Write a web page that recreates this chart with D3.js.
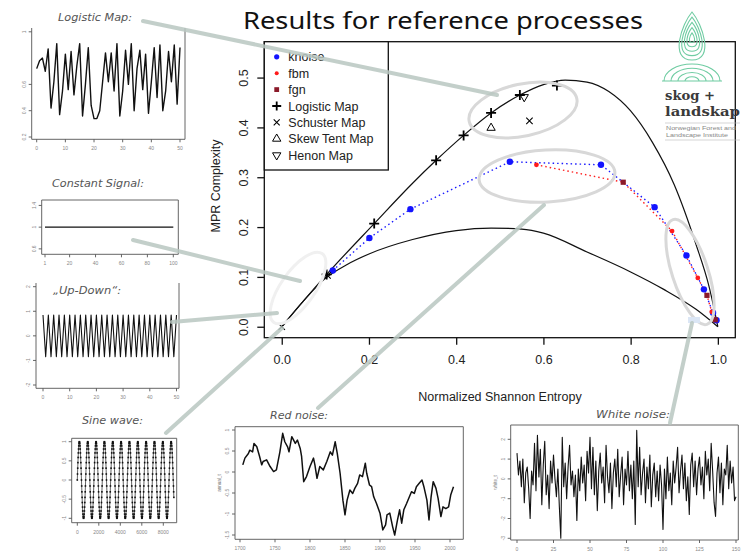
<!DOCTYPE html>
<html>
<head>
<meta charset="utf-8">
<script src="https://cdn.jsdelivr.net/npm/d3@7"></script>
<style>body{margin:0;background:#fff}</style>
</head>
<body>
<div class="canvas"></div>
<script>
// ---- main plot: Normalized Shannon Entropy (H) vs MPR Complexity (C)
const maxCurveH = [0, 0.05, 0.103, 0.212, 0.3, 0.354, 0.417, 0.48, 0.546, 0.6, 0.65, 0.7, 0.75, 0.8, 0.85, 0.9, 0.95, 0.98, 1.0];
const maxCurveC = [0, 0.052, 0.105, 0.207, 0.288, 0.334, 0.384, 0.429, 0.465, 0.486, 0.495, 0.491, 0.472, 0.433, 0.37, 0.285, 0.165, 0.08, 0];
const minCurveH = [0, 0.05, 0.1, 0.15, 0.2, 0.3, 0.4, 0.48, 0.55, 0.6, 0.7, 0.8, 0.876, 0.95, 1.0];
const minCurveC = [0, 0.052, 0.097, 0.125, 0.146, 0.175, 0.193, 0.198, 0.196, 0.188, 0.15, 0.11, 0.075, 0.035, 0];

const knoiseH = [0.117, 0.201, 0.295, 0.523, 0.732, 0.855, 0.928, 0.968, 0.989, 0.997];
const knoiseC = [0.113, 0.178, 0.236, 0.331, 0.325, 0.240, 0.143, 0.075, 0.028, 0.013];
const fbmH = [0.584, 0.895, 0.954, 0.986];
const fbmC = [0.325, 0.192, 0.098, 0.030];
const fgnH = [0.783, 0.975, 0.994];
const fgnC = [0.290, 0.063, 0.014];
const logisticH = [0.103, 0.212, 0.354, 0.417, 0.480, 0.546, 0.631];
const logisticC = [0.105, 0.207, 0.334, 0.384, 0.429, 0.465, 0.484];
const schusterH = [0.0, 0.105, 0.568];
const schusterC = [0.0, 0.103, 0.413];
const skewTentH = [0.480];
const skewTentC = [0.399];
const henonH = [0.556];
const henonC = [0.461];

const xTicksMain = [0, 0.2, 0.4, 0.6, 0.8, 1.0];
const yTicksMain = [0, 0.1, 0.2, 0.3, 0.4, 0.5];
const legendLabels = ['knoise', 'fbm', 'fgn', 'Logistic Map', 'Schuster Map', 'Skew Tent Map', 'Henon Map'];

// ---- inset series
const logisticSeries = [0.72, 0.78, 0.80, 0.70, 0.87, 0.42, 0.62, 0.91, 0.37, 0.55, 0.83, 0.56, 0.85, 0.52, 0.74, 0.91, 0.36, 0.60, 0.88, 0.44,
  0.34, 0.34, 0.40, 0.62, 0.84, 0.62, 0.84, 0.55, 0.91, 0.36, 0.55, 0.86, 0.60, 0.91, 0.40, 0.72, 0.86, 0.56, 0.83, 0.38,
  0.62, 0.88, 0.50, 0.90, 0.40, 0.55, 0.85, 0.62, 0.90, 0.45, 0.88];
const constantT = [1, 100];
const constantV = [1.0, 1.0];
const upDownSeries = [0.85, -0.85, 0.85, -0.85, 0.85, -0.85, 0.85, -0.85, 0.85, -0.85, 0.85, -0.85, 0.85, -0.85, 0.85, -0.85, 0.85,
  -0.85, 0.85, -0.85, 0.85, -0.85, 0.85, -0.85, 0.85, -0.85, 0.85, -0.85, 0.85, -0.85, 0.85, -0.85, 0.85, -0.85,
  0.85, -0.85, 0.85, -0.85, 0.85, -0.85, 0.85, -0.85, 0.85, -0.85, 0.85, -0.85, 0.85, -0.85, 0.85, -0.85, 0.85];
// one period of the sampled sine wave (40 samples), repeated over the record
const sineCycle = [0, 0.156, 0.309, 0.454, 0.588, 0.707, 0.809, 0.891, 0.951, 0.988, 1.0, 0.988, 0.951, 0.891, 0.809, 0.707, 0.588, 0.454, 0.309, 0.156,
  0, -0.156, -0.309, -0.454, -0.588, -0.707, -0.809, -0.891, -0.951, -0.988, -1.0, -0.988, -0.951, -0.891, -0.809, -0.707, -0.588, -0.454, -0.309, -0.156];
const sineStep = 19.4;
const sineSamples = 464;
const redYears = [1704, 1707, 1712, 1714, 1718, 1720, 1724, 1728, 1731, 1733, 1738, 1743, 1748, 1752, 1757, 1761, 1764, 1768, 1770, 1774,
  1779, 1782, 1786, 1788, 1791, 1795, 1800, 1805, 1807, 1810, 1814, 1819, 1824, 1829, 1832, 1836, 1839, 1843, 1847, 1850,
  1853, 1857, 1861, 1864, 1868, 1871, 1875, 1879, 1881, 1885, 1888, 1891, 1895, 1900, 1904, 1908, 1910, 1914, 1918, 1921,
  1925, 1928, 1931, 1934, 1938, 1942, 1945, 1949, 1952, 1956, 1960, 1963, 1967, 1970, 1973, 1976, 1980, 1983, 1987, 1990,
  1994, 1998, 2001, 2005];
const redValues = [0.17, 0.33, 0.44, 0.52, 0.48, 0.68, 0.60, 0.37, 0.17, 0.25, 0.29, 0.13, 0.01, 0.05, 0.48, 0.92, 0.72, 0.60, 0.48, 0.84,
  0.68, 0.76, 0.56, 0.37, -0.23, -0.11, 0.13, 0.33, 0.17, -0.15, 0.13, 0.05, 0.25, 0.48, 0.40, 0.72, 0.44, -0.03, -0.67, -1.02,
  -0.67, -0.43, -0.51, -0.39, -0.27, -0.07, -0.11, 0.21, -0.03, -0.31, -0.35, -0.59, -0.75, -0.98, -1.38, -1.26, -1.02, -0.98, -1.30, -1.50,
  -1.14, -0.90, -1.22, -0.90, -0.75, -0.59, -0.47, -0.51, -0.35, -0.27, -0.19, -0.37, -0.67, -1.14, -0.59, -0.23, -0.39, -0.63, -1.06, -0.83,
  -0.87, -0.83, -0.55, -0.35];
const whiteSeries = [1.3, 0.2, 0.9, -0.4, 1.0, -1.2, 0.3, 0.6, -0.5, -2.0, 0.4, -0.3, 1.8, -0.6, 2.2, 0.1, 1.5, -1.3, 0.7, 1.9,
  -0.8, 0.2, -1.5, 0.9, -0.2, 1.2, 0.0, -0.9, 0.5, -1.4, -3.0, 2.1, -0.4, 0.8, -1.0, 0.6, 1.7, -0.3, 0.4, -0.9,
  0.2, -2.1, 0.5, -0.6, 1.1, -0.2, 0.7, -1.1, 1.4, 0.3, 2.1, -0.5, 1.6, -0.8, 0.9, -1.6, 0.4, 1.3, -0.2, 0.6,
  -1.2, 1.7, 0.1, -0.7, 0.8, -1.5, 0.3, 1.0, -0.4, 1.5, -0.9, 0.2, 1.1, -1.3, 0.5, -0.3, 1.4, -0.6, 0.7, -1.0,
  0.9, -2.3, 2.45, -0.4, 1.6, -0.8, 0.3, 1.0, -1.2, 0.6, -0.5, 1.2, -1.4, 0.2, 0.8, -0.9, 0.4, -1.1, 0.7, -0.3,
  -2.55, 0.5, -1.0, 1.1, -0.6, 0.3, -1.3, 0.9, -0.2, 0.6, 1.6, -0.7, 0.4, 1.2, -0.5, 0.8, -1.1, 0.1, -1.8, 0.7,
  1.3, -0.4, 0.9, -0.8, 0.5, 1.1, -0.3, 0.6, -1.0, 1.4, 0.2, 1.0, -0.6, 1.8, 0.4, -1.2, -1.9, 0.3, 1.1, -0.7,
  0.8, -1.3, 0.5, 0.2, 1.7, -0.5, 0.9, -0.2, 0.6, -1.1, -0.9];

const zip = (a, b) => a.map((v, i) => [v, b[i]]);

// create svg
const svg = d3.select('.canvas')
  .append('svg')
    .attr('width', 748)
    .attr('height', 555)
    .style('font-family', '"Liberation Sans", Arial, sans-serif');

svg.append('rect').attr('width', 748).attr('height', 555).attr('fill', '#fff');

// title
svg.append('text')
  .attr('x', 443).attr('y', 29)
  .attr('text-anchor', 'middle')
  .attr('font-family', '"Noto Sans", "DejaVu Sans", sans-serif')
  .attr('font-size', 24)
  .attr('textLength', 400).attr('lengthAdjust', 'spacingAndGlyphs')
  .attr('fill', '#111')
  .text('Results for reference processes');

// ---------------- main plot ----------------
const x = d3.scaleLinear().domain([-0.04, 1.04]).range([264.3, 735.3]);
const y = d3.scaleLinear().domain([-0.022, 0.572]).range([337.7, 41.7]);
const main = svg.append('g');

const curve = d3.line().x(d => x(d[0])).y(d => y(d[1])).curve(d3.curveMonotoneX);
const straight = d3.line().x(d => x(d[0])).y(d => y(d[1]));

main.append('path').attr('d', curve(zip(maxCurveH, maxCurveC)))
  .attr('fill', 'none').attr('stroke', '#111').attr('stroke-width', 1.2);
main.append('path').attr('d', curve(zip(minCurveH, minCurveC)))
  .attr('fill', 'none').attr('stroke', '#111').attr('stroke-width', 1.2);

// dotted connecting lines
main.append('path').attr('d', straight(zip(knoiseH, knoiseC)))
  .attr('fill', 'none').attr('stroke', '#1a1aff').attr('stroke-width', 1.4).attr('stroke-dasharray', '1.5,3');
const redPts = zip(fbmH, fbmC).concat(zip(fgnH, fgnC)).sort((a, b) => a[0] - b[0]);
main.append('path').attr('d', straight(redPts))
  .attr('fill', 'none').attr('stroke', '#ff2020').attr('stroke-width', 1.4).attr('stroke-dasharray', '1.5,3');

// markers
const plusPath = s => `M${-s},0H${s}M0,${-s}V${s}`;
const crossPath = s => `M${-s},${-s}L${s},${s}M${-s},${s}L${s},${-s}`;
const triUp = d3.symbol().type(d3.symbolTriangle).size(30)();

main.selectAll('.kn').data(zip(knoiseH, knoiseC)).enter().append('circle')
  .attr('cx', d => x(d[0])).attr('cy', d => y(d[1])).attr('r', 3.2).attr('fill', '#1414ff');
main.selectAll('.fbm').data(zip(fbmH, fbmC)).enter().append('circle')
  .attr('cx', d => x(d[0])).attr('cy', d => y(d[1])).attr('r', 2.4).attr('fill', '#ff1a1a');
main.selectAll('.fgn').data(zip(fgnH, fgnC)).enter().append('rect')
  .attr('x', d => x(d[0]) - 2.6).attr('y', d => y(d[1]) - 2.6).attr('width', 5.2).attr('height', 5.2).attr('fill', '#8b1a2a');
main.selectAll('.lg').data(zip(logisticH, logisticC)).enter().append('path')
  .attr('transform', d => `translate(${x(d[0])},${y(d[1])})`).attr('d', plusPath(5))
  .attr('stroke', '#000').attr('stroke-width', 1.8);
main.selectAll('.sc').data(zip(schusterH, schusterC)).enter().append('path')
  .attr('transform', d => `translate(${x(d[0])},${y(d[1])})`).attr('d', crossPath(3.2))
  .attr('stroke', '#000').attr('stroke-width', 1.1);
main.selectAll('.st').data(zip(skewTentH, skewTentC)).enter().append('path')
  .attr('transform', d => `translate(${x(d[0])},${y(d[1])})`).attr('d', triUp)
  .attr('fill', 'none').attr('stroke', '#000').attr('stroke-width', 1);
main.selectAll('.hn').data(zip(henonH, henonC)).enter().append('path')
  .attr('transform', d => `translate(${x(d[0])},${y(d[1])}) rotate(180)`).attr('d', triUp)
  .attr('fill', 'none').attr('stroke', '#000').attr('stroke-width', 1);

// box
main.append('rect').attr('x', 264.3).attr('y', 41.7).attr('width', 471).attr('height', 296)
  .attr('fill', 'none').attr('stroke', '#111').attr('stroke-width', 1.3);

// axes
const xAxis = main.append('g').attr('transform', 'translate(0,337.7)')
  .call(d3.axisBottom(x).tickValues(xTicksMain).tickFormat(d3.format('.1f')).tickSize(7).tickPadding(10).tickSizeOuter(0));
xAxis.select('.domain').remove();
xAxis.selectAll('line').attr('stroke', '#111').attr('stroke-width', 1.3);
xAxis.selectAll('text').attr('font-size', 12.5).attr('fill', '#222').attr('font-family', '"Liberation Sans", Arial, sans-serif');

const yAxis = main.append('g').attr('transform', 'translate(264.3,0)')
  .call(d3.axisLeft(y).tickValues(yTicksMain).tickFormat(d3.format('.1f')).tickSize(7).tickSizeOuter(0));
yAxis.select('.domain').remove();
yAxis.selectAll('line').attr('stroke', '#111').attr('stroke-width', 1.3);
yAxis.selectAll('text')
  .attr('x', null).attr('dy', null)
  .attr('text-anchor', 'middle')
  .attr('transform', 'translate(-16.5,0) rotate(-90)')
  .attr('font-size', 12.5).attr('fill', '#222').attr('font-family', '"Liberation Sans", Arial, sans-serif');

main.append('text').attr('x', 500).attr('y', 401).attr('text-anchor', 'middle')
  .attr('font-size', 12.5).attr('fill', '#222').text('Normalized Shannon Entropy');
main.append('text').attr('transform', 'translate(219.5,186) rotate(-90)').attr('text-anchor', 'middle')
  .attr('font-size', 12.5).attr('fill', '#222').text('MPR Complexity');

// legend
const leg = main.append('g');
leg.append('rect').attr('x', 264.3).attr('y', 41.7).attr('width', 124).attr('height', 128.3)
  .attr('fill', '#fff').attr('stroke', '#111').attr('stroke-width', 1.3);
legendLabels.forEach((lab, i) => {
  const ly = 56.8 + i * 16.4;
  const sx = 276.7;
  if (i === 0) leg.append('circle').attr('cx', sx).attr('cy', ly).attr('r', 2.6).attr('fill', '#1414ff');
  if (i === 1) leg.append('circle').attr('cx', sx).attr('cy', ly).attr('r', 2).attr('fill', '#ff1a1a');
  if (i === 2) leg.append('rect').attr('x', sx - 2.4).attr('y', ly - 2.4).attr('width', 4.8).attr('height', 4.8).attr('fill', '#8b1a2a');
  if (i === 3) leg.append('path').attr('transform', `translate(${sx},${ly})`).attr('d', plusPath(4.5)).attr('stroke', '#000').attr('stroke-width', 1.8);
  if (i === 4) leg.append('path').attr('transform', `translate(${sx},${ly})`).attr('d', crossPath(3)).attr('stroke', '#000').attr('stroke-width', 1.1);
  if (i === 5) leg.append('path').attr('transform', `translate(${sx},${ly})`).attr('d', triUp).attr('fill', 'none').attr('stroke', '#000');
  if (i === 6) leg.append('path').attr('transform', `translate(${sx},${ly}) rotate(180)`).attr('d', triUp).attr('fill', 'none').attr('stroke', '#000');
  leg.append('text').attr('x', 288.3).attr('y', ly + 4.5).attr('font-size', 12.5).attr('fill', '#222').text(lab);
});

// ---------------- insets ----------------
function inset(o) {
  const g = svg.append('g');
  const [bx0, by0, bx1, by1] = o.box;
  const sides = o.sides || 'tlbr';
  const border = (x1, y1, x2, y2) => g.append('line').attr('x1', x1).attr('y1', y1).attr('x2', x2).attr('y2', y2)
    .attr('stroke', '#555').attr('stroke-width', 0.9);
  if (sides.includes('t')) border(bx0, by0, bx1, by0);
  if (sides.includes('r')) border(bx1, by0, bx1, by1);
  if (sides.includes('l')) border(bx0, by0, bx0, by1);
  if (sides.includes('b')) border(bx0, by1, bx1, by1);
  // bottom ticks
  o.xTicks.forEach(t => {
    g.append('line').attr('x1', o.x(t)).attr('x2', o.x(t)).attr('y1', by1).attr('y2', by1 + 3)
      .attr('stroke', '#555').attr('stroke-width', 0.9);
    g.append('text').attr('x', o.x(t)).attr('y', by1 + 11).attr('text-anchor', 'middle')
      .attr('font-size', 5).attr('fill', '#888').text(t);
  });
  o.yTicks.forEach(t => {
    g.append('line').attr('x1', bx0).attr('x2', bx0 - 3).attr('y1', o.y(t)).attr('y2', o.y(t))
      .attr('stroke', '#555').attr('stroke-width', 0.9);
    g.append('text').attr('transform', `translate(${bx0 - 6},${o.y(t)}) rotate(-90)`).attr('text-anchor', 'middle')
      .attr('font-size', 5).attr('fill', '#888').text(t);
  });
  if (o.ylab) {
    g.append('text').attr('transform', `translate(${bx0 - 14},${(by0 + by1) / 2}) rotate(-90)`).attr('text-anchor', 'middle')
      .attr('font-size', 4.5).attr('fill', '#777').text(o.ylab);
  }
  g.append('text').attr('x', o.title[1]).attr('y', o.title[2])
    .attr('font-family', '"DejaVu Sans", Verdana, sans-serif').attr('font-style', 'italic')
    .attr('font-size', 11).attr('fill', '#555')
    .attr('textLength', o.title[3]).attr('lengthAdjust', 'spacingAndGlyphs')
    .text(o.title[0]);
  return g;
}

const seriesLine = (g, xs, ys, pts, w) => g.append('path')
  .attr('d', d3.line().x(d => xs(d[0])).y(d => ys(d[1]))(pts))
  .attr('fill', 'none').attr('stroke', '#111').attr('stroke-width', w).attr('stroke-linejoin', 'round');

// Logistic Map
{
  const xs = d3.scaleLinear().domain([0, 50]).range([36.7, 180]);
  const ys = d3.scaleLinear().domain([0.2, 1.0]).range([137, 31.8]);
  const g = inset({ box: [31.7, 28, 185, 139.3], sides: 'lbr', x: xs, y: ys,
    xTicks: [0, 10, 20, 30, 40, 50], yTicks: [0.2, 0.4, 0.6, 1.0], title: ['Logistic Map:', 58, 21, 74] });
  seriesLine(g, xs, ys, logisticSeries.map((v, i) => [i, v]), 1.4);
}
// Constant Signal
{
  const xs = d3.scaleLinear().domain([1, 100]).range([45, 173.3]);
  const ys = d3.scaleLinear().domain([0.5, 1.5]).range([254.3, 200]);
  const g = inset({ box: [41.7, 200, 178.3, 254.3], x: xs, y: ys,
    xTicks: [1, 20, 40, 60, 80, 100], yTicks: [0.6, 1.0, 1.4], title: ['Constant Signal:', 52, 187, 92] });
  seriesLine(g, xs, ys, zip(constantT, constantV), 1.2);
}
// Up-Down
{
  const xs = d3.scaleLinear().domain([0, 50]).range([43, 176.5]);
  const ys = d3.scaleLinear().domain([-2, 2]).range([385, 286.7]);
  const g = inset({ box: [36, 283, 179, 388.3], sides: 'lbr', x: xs, y: ys,
    xTicks: [0, 10, 20, 30, 40, 50], yTicks: [-2, -1, 0, 1, 2], title: ['„Up-Down“:', 53, 294, 68] });
  seriesLine(g, xs, ys, upDownSeries.map((v, i) => [i, v]), 1.1);
}
// Sine wave
{
  const xs = d3.scaleLinear().domain([0, 8000]).range([77.3, 163.3]);
  const ys = d3.scaleLinear().domain([-1, 1]).range([518.3, 441.7]);
  const g = inset({ box: [71.7, 438.3, 176.7, 522.7], x: xs, y: ys,
    xTicks: [0, 2000, 4000, 6000, 8000], yTicks: [-1, -0.5, 0, 0.5, 1], title: ['Sine wave:', 82, 424, 61] });
  const pts = d3.range(sineSamples).map(k => [k * sineStep, sineCycle[k % sineCycle.length]]);
  g.append('path')
    .attr('d', d3.line().x(d => xs(d[0])).y(d => ys(d[1]))(pts))
    .attr('fill', 'none').attr('stroke', '#222').attr('stroke-width', 0.7);
  g.selectAll('.sp').data(pts).enter().append('rect')
    .attr('x', d => xs(d[0]) - 0.8).attr('y', d => ys(d[1]) - 0.8)
    .attr('width', 1.6).attr('height', 1.6).attr('fill', '#111');
}
// Red noise
{
  const xs = d3.scaleLinear().domain([1700, 2000]).range([240, 450]);
  const ys = d3.scaleLinear().domain([-1.5, 1.0]).range([535, 430]);
  const g = inset({ box: [235, 426.7, 463.3, 539.3], x: xs, y: ys, ylab: 'annual_t',
    xTicks: [1700, 1750, 1800, 1850, 1900, 1950, 2000], yTicks: [-1.5, -1, -0.5, 0, 0.5, 1],
    title: ['Red noise:', 270, 419, 58] });
  seriesLine(g, xs, ys, zip(redYears, redValues), 1.5);
}
// White noise
{
  const xs = d3.scaleLinear().domain([0, 150]).range([517, 736]);
  const ys = d3.scaleLinear().domain([-3, 2]).range([538.3, 439.3]);
  const g = inset({ box: [510.7, 425, 738.3, 540], x: xs, y: ys, ylab: 'white_t',
    xTicks: [0, 25, 50, 75, 100, 125, 150], yTicks: [-3, -2, -1, 0, 1, 2],
    title: ['White noise:', 596, 418, 74] });
  seriesLine(g, xs, ys, whiteSeries.map((v, i) => [i, v]), 1.1);
}

// ---------------- callouts ----------------
const call = svg.append('g').attr('fill', 'none').attr('stroke-linecap', 'round');
const ellipses = [
  [523, 110, 55, 26, -12], [547, 176, 68, 26, -3], [690, 272, 18, 55, -18], [298, 288, 17, 42, 35]
];
ellipses.forEach((e, i) => call.append('ellipse')
  .attr('transform', `translate(${e[0]},${e[1]}) rotate(${e[4]})`)
  .attr('rx', e[2]).attr('ry', e[3])
  .attr('stroke', i === 3 ? '#f0f0f0' : '#d8d8d8').attr('stroke-width', 3));
call.append('rect').attr('x', 688).attr('y', 317).attr('width', 12).attr('height', 6).attr('fill', '#dbe6f5').attr('stroke', 'none');
const arrows = [
  [143, 21, 497, 95], [133, 240, 300, 281], [172, 322, 277, 313],
  [166, 433, 282, 328], [318, 408, 544, 205], [670, 423, 692, 323]
];
arrows.forEach(a => call.append('line')
  .attr('x1', a[0]).attr('y1', a[1]).attr('x2', a[2]).attr('y2', a[3])
  .attr('stroke', '#b9c7c1').attr('stroke-width', 4).attr('opacity', 0.85));

// ---------------- logo ----------------
const logo = svg.append('g').attr('fill', 'none').attr('stroke', '#6fcca2').attr('stroke-width', 1.1);
[1, 0.8, 0.6, 0.4, 0.2].forEach(s => {
  const cx = 692, top = 38 - 26 * s, bot = 38 + 22 * s, hw = 17 * s, h = bot - top;
  logo.append('path').attr('d',
    `M${cx},${top} C${cx + hw * 0.6},${top + h * 0.25} ${cx + hw * 1.35},${bot} ${cx},${bot} ` +
    `C${cx - hw * 1.35},${bot} ${cx - hw * 0.6},${top + h * 0.25} ${cx},${top} Z`);
});
[1, 0.75, 0.5, 0.25].forEach(s => {
  logo.append('path').attr('d', `M${692 - 28 * s},81 A${28 * s},${17 * s} 0 0 1 ${692 + 28 * s},81`);
});
logo.append('line').attr('x1', 662).attr('x2', 722).attr('y1', 81).attr('y2', 81);
svg.append('text').attr('x', 665).attr('y', 100).attr('font-family', '"DejaVu Serif", serif').attr('font-weight', 'bold')
  .attr('font-size', 13.5).attr('fill', '#3a3a3a').attr('textLength', 50).attr('lengthAdjust', 'spacingAndGlyphs').text('skog +');
svg.append('text').attr('x', 665).attr('y', 116).attr('font-family', '"DejaVu Serif", serif').attr('font-weight', 'bold')
  .attr('font-size', 13.5).attr('fill', '#3a3a3a').attr('textLength', 75).attr('lengthAdjust', 'spacingAndGlyphs').text('landskap');
svg.append('line').attr('x1', 665).attr('x2', 740).attr('y1', 123).attr('y2', 123).attr('stroke', '#bbb').attr('stroke-width', 0.6);
svg.append('text').attr('x', 666).attr('y', 130).attr('font-size', 4.6).attr('fill', '#888')
  .attr('textLength', 70).attr('lengthAdjust', 'spacingAndGlyphs').text('Norwegian Forest and');
svg.append('text').attr('x', 666).attr('y', 136.5).attr('font-size', 4.6).attr('fill', '#888')
  .attr('textLength', 62).attr('lengthAdjust', 'spacingAndGlyphs').text('Landscape Institute');
svg.append('line').attr('x1', 665).attr('x2', 740).attr('y1', 140).attr('y2', 140).attr('stroke', '#bbb').attr('stroke-width', 0.6);
</script>
</body>
</html>
